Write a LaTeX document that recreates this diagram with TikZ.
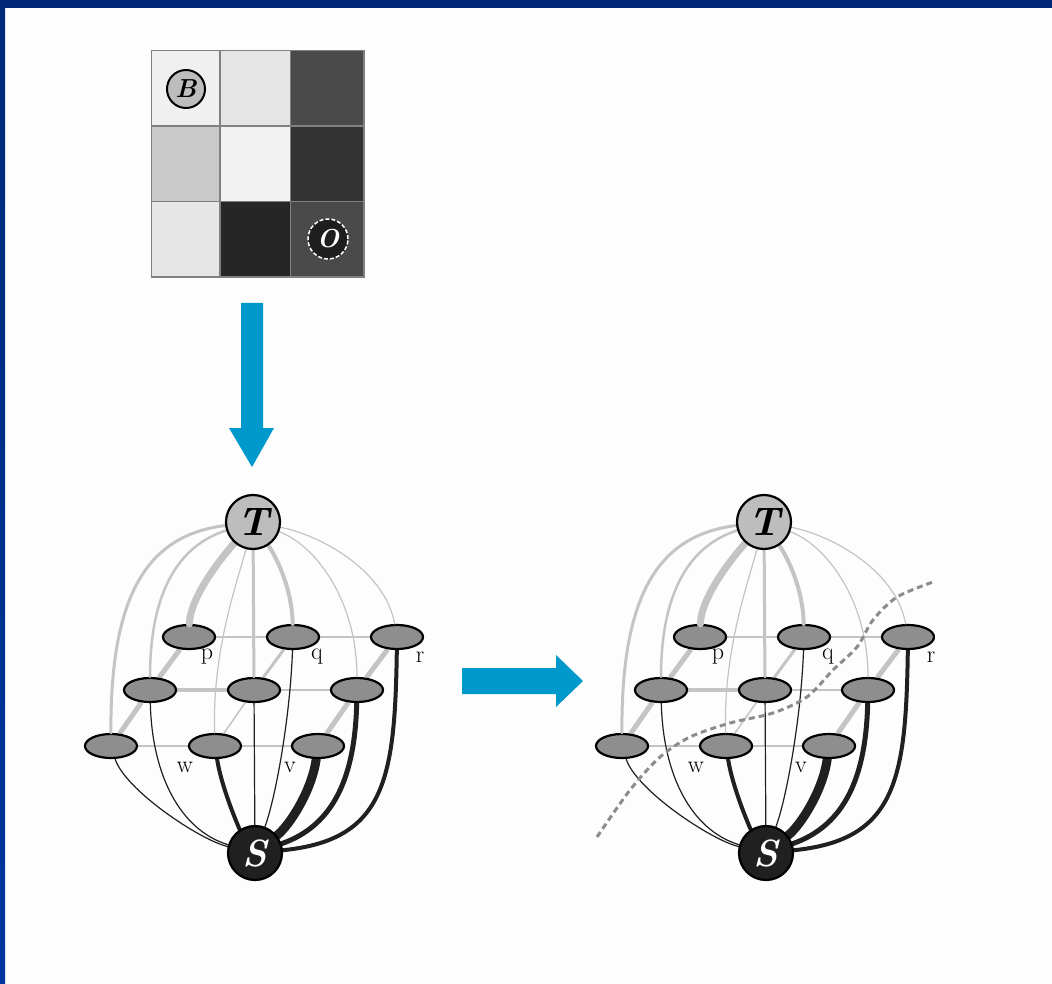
\documentclass[tikz,border=0pt]{standalone}
\usetikzlibrary{shapes.geometric}
\pgfdeclarelayer{paperlayer}
\pgfdeclarelayer{back}
\pgfdeclarelayer{front}
\pgfsetlayers{paperlayer,back,main,front}

\definecolor{frameblue}{HTML}{002A78}
\definecolor{framelow}{HTML}{0036A0}
\definecolor{arrowblue}{HTML}{0099CC}
\definecolor{lightedge}{HTML}{C4C4C4}
\definecolor{darkedge}{HTML}{202020}
\definecolor{nodegray}{HTML}{8E8E8E}
\definecolor{termgray}{HTML}{BDBDBD}
\definecolor{pixA}{HTML}{F0F0F0}
\definecolor{pixB}{HTML}{E5E5E5}
\definecolor{pixC}{HTML}{4A4A4A}
\definecolor{pixD}{HTML}{C9C9C9}
\definecolor{pixE}{HTML}{F2F2F2}
\definecolor{pixF}{HTML}{333333}
\definecolor{pixG}{HTML}{E6E6E6}
\definecolor{pixH}{HTML}{262626}
\definecolor{pixline}{HTML}{808080}
\definecolor{seeddark}{HTML}{1E1E1E}
\definecolor{paper}{HTML}{FDFDFD}

\tikzset{
  site/.style={ellipse, draw=black, line width=2.2, fill=nodegray,
    minimum width=52, minimum height=24, inner sep=0},
  sink/.style={circle, draw=black, line width=2.2, fill=termgray,
    minimum size=54, inner sep=0,
    font=\fontsize{40}{40}\selectfont\bfseries\itshape},
  source/.style={circle, draw=black, line width=2.2, fill=darkedge, text=white,
    minimum size=54, inner sep=0,
    font=\fontsize{38}{38}\selectfont\bfseries\itshape},
  tlink/.style={draw=lightedge, line cap=round},
  slink/.style={draw=darkedge, line cap=round},
  nlink/.style={draw=lightedge},
  lab/.style={inner sep=0, font=\fontsize{24}{24}\selectfont},
  cutline/.style={draw=gray!90, line width=3, dash pattern=on 6 off 4},
  flow/.style={fill=arrowblue},
}

% one grid graph with its terminals T and S
\newcommand\gridgraph{%
  \node[site] (a1) at (189,637) {};
  \node[site] (a2) at (293,637) {};
  \node[site] (a3) at (397,637) {};
  \node[site] (b1) at (150,690) {};
  \node[site] (b2) at (254,690) {};
  \node[site] (b3) at (357,690) {};
  \node[site] (c1) at (111,746) {};
  \node[site] (c2) at (215,746) {};
  \node[site] (c3) at (318,746) {};
  \begin{pgfonlayer}{front}
    \node[sink] (T) at (253,522) {T};
    \node[source] (S) at (255,853) {S};
  \end{pgfonlayer}
  \node[lab] (lp) at (207,657) {p};
  \node[lab] (lq) at (317,657) {q};
  \node[lab] (lr) at (420,657) {r};
  \node[lab] (lw) at (185,767) {w};
  \node[lab] (lv) at (290,767) {v};
  \begin{pgfonlayer}{back}
    % neighbourhood links
    \draw[nlink, line width=2]   (a1) -- (a2);
    \draw[nlink, line width=1.5] (a2) -- (a3);
    \draw[nlink, line width=4]   (b1) -- (b2);
    \draw[nlink, line width=1.5] (b2) -- (b3);
    \draw[nlink, line width=1.5] (c1) -- (c2);
    \draw[nlink, line width=2.5] (c2) -- (c3);
    \draw[nlink, line width=5]   (a1) -- (b1);
    \draw[nlink, line width=5]   (b1) -- (c1);
    \draw[nlink, line width=3]   (a2) -- (b2);
    \draw[nlink, line width=1.5] (b2) -- (c2);
    \draw[nlink, line width=5]   (a3) -- (b3);
    \draw[nlink, line width=5]   (b3) -- (c3);
    % links to the source S
    \draw[slink, line width=1.2] (c1) .. controls (125,790) and (200,840) .. (S);
    \draw[slink, line width=1.2] (b1) .. controls (152,775) and (180,830) .. (S);
    \draw[slink, line width=4]   (c2) .. controls (222,790) and (240,830) .. (S);
    \draw[slink, line width=1.2] (b2) -- (S);
    \draw[slink, line width=1.2] (a2) .. controls (290,720) and (275,800) .. (S);
    \draw[slink, line width=9]   (c3) .. controls (312,790) and (290,825) .. (S);
    \draw[slink, line width=5]   (b3) .. controls (355,775) and (335,825) .. (S);
    \draw[slink, line width=4]   (a3) .. controls (395,780) and (385,840) .. (S);
  \end{pgfonlayer}
  % links to the sink T
  \draw[tlink, line width=3]   (T) .. controls (150,535) and (110,590) .. (c1);
  \draw[tlink, line width=2.5] (T) .. controls (180,545) and (150,590) .. (b1);
  \draw[tlink, line width=7]   (T) .. controls (215,565) and (190,600) .. (a1);
  \draw[tlink, line width=1.2] (T) .. controls (238,580) and (212,650) .. (c2);
  \draw[tlink, line width=3]   (T) -- (b2);
  \draw[tlink, line width=4]   (T) .. controls (278,560) and (292,590) .. (a2);
  \draw[tlink, line width=1.2] (T) .. controls (315,545) and (357,600) .. (b3);
  \draw[tlink, line width=1.2] (T) .. controls (320,535) and (385,570) .. (a3);
}

\begin{document}
\begin{tikzpicture}[x=1pt, y=-1pt]
  \useasboundingbox (0,0) rectangle (1052,984);
  \begin{pgfonlayer}{paperlayer}
    \fill[paper] (0,0) rectangle (1052,984);
    % slide frame
    \fill[frameblue] (0,0) rectangle (1052,8);
    \shade[top color=frameblue, bottom color=framelow] (0,0) rectangle (5,984);
  \end{pgfonlayer}

  % image with seeds
  \fill[pixA] (151.7,50.7) rectangle (220,126);
  \fill[pixB] (220,50.7) rectangle (290.7,126);
  \fill[pixC] (290.7,50.7) rectangle (364,126);
  \fill[pixD] (151.7,126) rectangle (220,201.7);
  \fill[pixE] (220,126) rectangle (290.7,201.7);
  \fill[pixF] (290.7,126) rectangle (364,201.7);
  \fill[pixG] (151.7,201.7) rectangle (220,277);
  \fill[pixH] (220,201.7) rectangle (290.7,277);
  \fill[pixC] (290.7,201.7) rectangle (364,277);
  \draw[pixline, line width=1.5]
    (151.7,50.7) rectangle (364,277)
    (220,50.7) -- (220,277) (290.7,50.7) -- (290.7,277)
    (151.7,126) -- (364,126) (151.7,201.7) -- (364,201.7);
  \node[circle, draw=black, line width=2, fill=termgray, minimum size=38, inner sep=0,
        font=\fontsize{26}{26}\selectfont\bfseries\itshape] (seedB) at (186,89) {B};
  \node[circle, draw=white, line width=1.5, dash pattern=on 4 off 2, fill=seeddark,
        text=white, minimum size=40, inner sep=0,
        font=\fontsize{26}{26}\selectfont\bfseries\itshape] (seedO) at (328,239) {O};

  % arrows
  \fill[flow] (241,303) -- (263,303) -- (263,428) -- (274,428) -- (252,467)
              -- (229,428) -- (241,428) -- cycle;
  \fill[flow] (462,668) -- (556,668) -- (556,655) -- (583,681) -- (556,707)
              -- (556,694) -- (462,694) -- cycle;

  % graph before the cut
  \begin{scope}[name prefix=L-]
    \gridgraph
  \end{scope}
  % graph with the cut
  \begin{scope}[shift={(511,0)}, name prefix=R-]
    \gridgraph
  \end{scope}
  \draw[cutline] plot[smooth] coordinates {(597,837) (630,790) (660,757) (690,737)
    (730,723) (773,713) (807,697) (833,670) (857,647) (873,620) (897,597) (933,582)};
\end{tikzpicture}
\end{document}
